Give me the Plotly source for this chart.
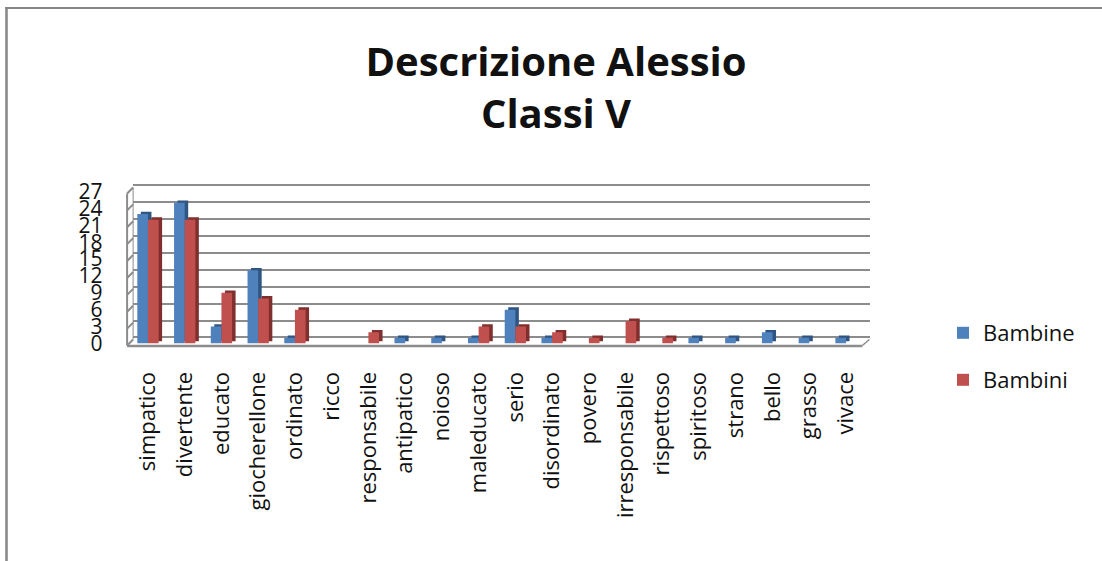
import plotly.graph_objects as go

categories = ["simpatico", "divertente", "educato", "giocherellone", "ordinato", "ricco",
              "responsabile", "antipatico", "noioso", "maleducato", "serio", "disordinato",
              "povero", "irresponsabile", "rispettoso", "spiritoso", "strano", "bello",
              "grasso", "vivace"]
bambine = [23, 25, 3, 13, 1, 0, 0, 1, 1, 1, 6, 1, 0, 0, 0, 1, 1, 2, 1, 1]
bambini = [22, 22, 9, 8, 6, 0, 2, 0, 0, 3, 3, 2, 1, 4, 1, 0, 0, 0, 0, 0]
y_ticks = [0, 3, 6, 9, 12, 15, 18, 21, 24, 27]

W, H = 1102, 561
# pixel geometry of the pseudo-3D box
FX0, FX1 = 129.6, 864.4     # category band
Y0, Y27 = 343.5, 191.5      # front face, value 0 and 27
DX, DY = 5.5, 6.0           # wall depth
PER = (Y0 - Y27) / 27
PAD = 0.5                   # back-wall axis padding, so its end gridlines are drawn
WID = 0.29
SIDE_X = 0.095              # side of a bar, in category units
SIDE_Y = 0.42               # top of a bar, in value units

BLUE, BLUE_D = "#4f81bd", "#2f5582"
RED, RED_D = "#c0504d", "#7f2f2d"
GRID = "#8c8c8c"

fig = go.Figure()

# invisible trace that brings the back-wall axes (and so its gridlines) into the page
fig.add_scatter(x=[0, 1], y=[0, 27], xaxis="x", yaxis="y", mode="lines",
                line=dict(width=0), showlegend=False, hoverinfo="skip")

def nz(vals):
    return [v if v else None for v in vals]

def add_series(name, vals, col, dark, off, legend):
    fig.add_bar(x=categories, y=nz(vals), base=SIDE_Y, width=WID, offset=off + SIDE_X,
                xaxis="x2", yaxis="y2",
                marker=dict(color=dark, line_width=0), showlegend=False, hoverinfo="skip")
    fig.add_bar(x=categories, y=nz(vals), name=name, width=WID, offset=off, legend=legend,
                xaxis="x2", yaxis="y2",
                marker=dict(color=col, line_width=0))

add_series("Bambine", bambine, BLUE, BLUE_D, -WID, "legend")
add_series("Bambini", bambini, RED, RED_D, 0, "legend2")

shapes = [
    dict(type="line", xref="paper", yref="paper", x0=6.5 / W, x1=6.5 / W, y0=0, y1=1 - 7 / H,
         line=dict(color="#868686", width=2.5)),
    dict(type="line", xref="paper", yref="paper", x0=5 / W, x1=1, y0=1 - 8 / H, y1=1 - 8 / H,
         line=dict(color="#868686", width=2)),
]

def px(x, y):
    return dict(xref="paper", yref="paper"), x / W, 1 - y / H

WX0, WX1 = FX0 - 2.5, FX0 + 3.5
for t in y_ticks:
    yf = Y0 + 2 - t * PER
    refs, x0, y0 = px(WX0, yf)
    _, x1, y1 = px(WX1, yf - DY)
    shapes.append(dict(type="line", layer="below", x0=x0, y0=y0, x1=x1, y1=y1,
                       line=dict(color=GRID, width=2), **refs))

# left wall, floor edge, right floor corner
for (a, b, c, d, w) in [(WX0, Y0 + 2, WX0, Y27 + 2, 2), (WX1, Y0 - 4, WX1, Y27 - 4, 1),
                        (WX0, Y0 + 2.5, FX1 - 2, Y0 + 2.5, 2.5),
                        (FX1 - 2, Y0 + 2, FX1 + 5, Y0 - 4, 1.5)]:
    refs, x0, y0 = px(a, b)
    _, x1, y1 = px(c, d)
    shapes.append(dict(type="line", layer="below", x0=x0, y0=y0, x1=x1, y1=y1,
                       line=dict(color=GRID, width=w), **refs))

leg = dict(xanchor="left", yanchor="middle", font=dict(size=22), itemwidth=30,
           bgcolor="rgba(0,0,0,0)")

fig.update_layout(
    width=W, height=H, autosize=False,
    margin=dict(l=0, r=0, t=0, b=0, autoexpand=False),
    paper_bgcolor="white", plot_bgcolor="rgba(0,0,0,0)",
    barmode="overlay", shapes=shapes,
    font=dict(family="Open Sans, Noto Sans, sans-serif", color="#111111"),
    title=dict(text="<b>Descrizione Alessio</b><br><b>Classi V</b>", x=556 / W, xanchor="center",
               y=1 - 76 / H, yanchor="top",
               font=dict(family="Open Sans", size=40, color="#111111")),
    legend=dict(x=943 / W, y=1 - 333 / H, **leg),
    legend2=dict(x=943 / W, y=1 - 380 / H, **leg),
    xaxis2=dict(domain=[FX0 / W, FX1 / W], type="category", categoryorder="array",
                categoryarray=categories, range=[-0.5, 19.5], tickangle=-90,
                showgrid=False, zeroline=False, showline=False, ticks="",
                tickfont=dict(size=22), anchor="y2", ticklabelstandoff=23),
    yaxis2=dict(domain=[1 - Y0 / H, 1 - Y27 / H], range=[0, 27], tickvals=y_ticks,
                showgrid=False, zeroline=False, showline=False, ticks="",
                tickfont=dict(size=21), ticklabelstandoff=26, anchor="x2"),
    yaxis=dict(domain=[1 - (Y0 - DY + PAD * PER) / H, 1 - (Y27 - DY - PAD * PER) / H],
               range=[-PAD, 27 + PAD], tickvals=y_ticks,
               showgrid=True, gridcolor=GRID, gridwidth=2, zeroline=False,
               showticklabels=False, ticks="", anchor="x"),
    xaxis=dict(domain=[WX1 / W, (FX1 + 5.5) / W], range=[0, 1], showgrid=False, zeroline=False,
               showticklabels=False, ticks="", anchor="y"),
)

fig.write_html("out.html", post_script="document.body.style.margin='0';",
               config={"displayModeBar": False})
